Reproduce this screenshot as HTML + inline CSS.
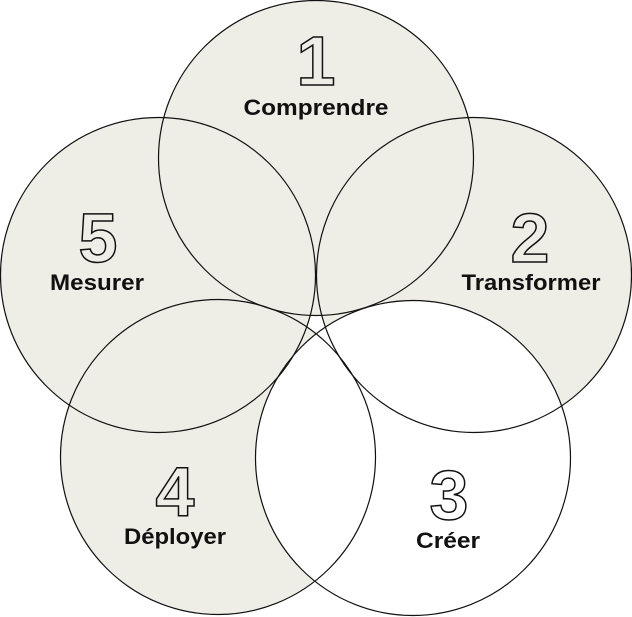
<!DOCTYPE html>
<html><head><meta charset="utf-8"><style>
html,body{margin:0;padding:0;background:#fff;}
svg{display:block;}
.n{font-family:"Liberation Sans",sans-serif;font-size:70px;font-weight:bold;fill:none;stroke:#111;stroke-width:1.5;text-anchor:middle;}
.l{font-family:"Liberation Sans",sans-serif;font-size:22px;font-weight:bold;fill:#111;text-anchor:middle;}
</style></head><body>
<svg width="632" height="617" viewBox="0 0 632 617" xmlns="http://www.w3.org/2000/svg">
<g fill="#eeede6">
<circle cx="316" cy="158" r="157.5"/>
<circle cx="474" cy="275" r="157.5"/>
<circle cx="158" cy="275" r="157.5"/>
<circle cx="218" cy="457" r="157.5"/>
</g>
<circle cx="413" cy="458" r="157.5" fill="#fff"/>
<g fill="none" stroke="#111" stroke-width="1.2">
<circle cx="316" cy="158" r="157.5"/>
<circle cx="474" cy="275" r="157.5"/>
<circle cx="158" cy="275" r="157.5"/>
<circle cx="218" cy="457" r="157.5"/>
<circle cx="413" cy="458" r="157.5"/>
</g>
<text class="n" x="316" y="85">1</text>
<text class="l" x="316" y="115" textLength="145" lengthAdjust="spacingAndGlyphs">Comprendre</text>
<text class="n" x="530" y="262">2</text>
<text class="l" x="531" y="290" textLength="139" lengthAdjust="spacingAndGlyphs">Transformer</text>
<text class="n" x="449" y="519">3</text>
<text class="l" x="448" y="548" textLength="64" lengthAdjust="spacingAndGlyphs">Créer</text>
<text class="n" x="175" y="516">4</text>
<text class="l" x="175" y="544" textLength="102" lengthAdjust="spacingAndGlyphs">Déployer</text>
<text class="n" x="98" y="262">5</text>
<text class="l" x="97" y="290" textLength="94" lengthAdjust="spacingAndGlyphs">Mesurer</text>
</svg>
</body></html>
